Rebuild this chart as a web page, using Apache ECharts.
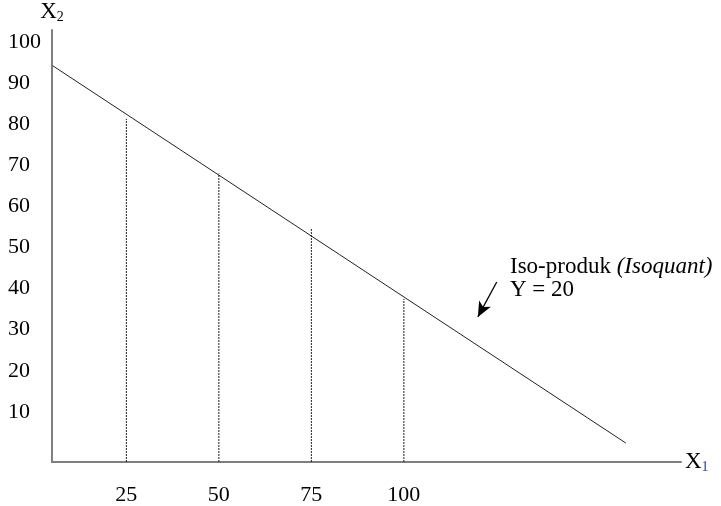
<!DOCTYPE html>
<html>
<head>
<meta charset="utf-8">
<style>
  html, body { margin: 0; padding: 0; background: #fff; }
  #chart { width: 721px; height: 506px; }
</style>
<script src="https://cdn.jsdelivr.net/npm/echarts@6/dist/echarts.min.js"></script>
</head>
<body>
<div id="chart"></div>
<script>
// isoquant line end points (x1, x2)
var isoLine = [[5.1, 94.2], [160, 2.4]];
// vertical drop lines: x1 value and height where dotted line stops
var dropX = [25, 50, 75, 100];
var dropTop = [81.3, 68.0, 54.5, 37.5];
var xTicks = [25, 50, 75, 100];
var yTicks = [10, 20, 30, 40, 50, 60, 70, 80, 90, 100];
var arrowFrom = [125.1, 41.6];
var arrowTo = [120, 33.1];

var xMin = 4.9, xMax = 174.9;
var yMin = -2.2, yMax = 102.9;

var chart = echarts.init(document.getElementById('chart'));
var font = '"Liberation Serif", "Times New Roman", serif';
var ink = '#222';

var series = [
    {
        type: 'line',
        data: isoLine,
        symbol: 'none',
        lineStyle: { color: ink, width: 1 },
        silent: true,
        markLine: {
            silent: true,
            symbol: ['none', 'arrow'],
            symbolSize: [10, 15],
            label: { show: false },
            lineStyle: { color: '#000', width: 1.3, type: 'solid' },
            data: [[{ coord: arrowFrom }, { coord: arrowTo }]]
        }
    }
];
dropX.forEach(function (x, i) {
    series.push({
        type: 'line',
        data: [[x, yMin], [x, dropTop[i]]],
        symbol: 'none',
        silent: true,
        lineStyle: { color: ink, width: 1, type: [2, 1] }
    });
});

var option = {
    animation: false,
    backgroundColor: '#fff',
    grid: { left: 52, right: 40, top: 30, bottom: 44 },
    xAxis: {
        type: 'value',
        min: xMin,
        max: xMax,
        name: '{x|X}{s|1}',
        nameLocation: 'end',
        nameGap: 4,
        nameTextStyle: {
            rich: {
                x: { fontFamily: font, fontSize: 23, color: '#000' },
                s: { fontFamily: font, fontSize: 14, color: '#1f3f8f', padding: [10, 0, 0, 0] }
            }
        },
        axisLine: { onZero: false, lineStyle: { color: '#7f7f7f', width: 2 } },
        axisTick: { show: false },
        splitLine: { show: false },
        axisLabel: {
            customValues: xTicks,
            margin: 22,
            fontFamily: font,
            fontSize: 22,
            color: '#000'
        }
    },
    yAxis: {
        type: 'value',
        min: yMin,
        max: yMax,
        name: '{x|X}{s|2}',
        nameLocation: 'end',
        nameGap: 6,
        nameTextStyle: {
            rich: {
                x: { fontFamily: font, fontSize: 23, color: '#000' },
                s: { fontFamily: font, fontSize: 14, color: '#000', padding: [10, 0, 0, 0] }
            }
        },
        axisLine: { show: true, onZero: false, lineStyle: { color: '#7f7f7f', width: 2 } },
        axisTick: { show: false },
        splitLine: { show: false },
        axisLabel: {
            customValues: yTicks,
            align: 'left',
            margin: 44,
            fontFamily: font,
            fontSize: 22,
            color: '#000'
        }
    },
    graphic: [
        {
            type: 'text',
            left: 510,
            top: 255,
            style: {
                text: '{n|Iso-produk }{i|(Isoquant)}\n{n|Y = 20}',
                rich: {
                    n: { fontFamily: font, fontSize: 23, color: '#000', lineHeight: 23 },
                    i: { fontFamily: font, fontSize: 23, fontStyle: 'italic', color: '#000', lineHeight: 23 }
                }
            }
        }
    ],
    series: series
};
chart.setOption(option);
</script>
</body>
</html>
